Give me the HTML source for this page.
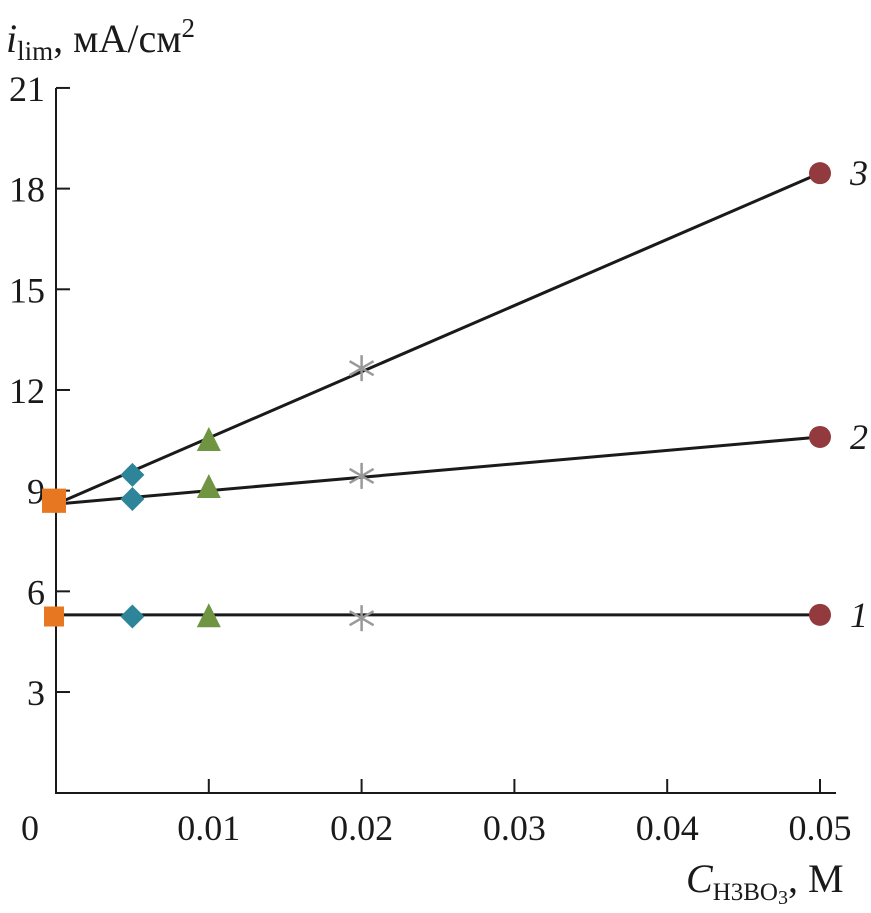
<!DOCTYPE html>
<html><head><meta charset="utf-8"><style>body{margin:0;background:#fff}svg text{font-family:"Liberation Serif",serif;fill:#1a1a1a}</style></head>
<body>
<svg id="c" width="871" height="908"></svg>
<script>
const yTicks=[3,6,9,12,15,18,21];
const xTicks=[0.01,0.02,0.03,0.04,0.05];
const xTickLabels=["0.01","0.02","0.03","0.04","0.05"];
const xData=[0,0.005,0.01,0.02,0.05];
const series1=[5.25,5.25,5.2,5.2,5.3];
const series2=[8.7,8.75,9.05,9.44,10.6];
const series3=[8.7,9.47,10.45,12.65,18.46];
const line1=[5.3,5.3];
const line2=[8.6,10.6];
const line3=[8.6,18.46];
const lineX=[0,0.05];
const markerTypes=["square","diamond","triangle","star","circle"];
const seriesLabels=["1","2","3"];
const X=v=>56+v*15280, Y=v=>792.7-v*33.56;
const s=document.getElementById('c'),NS='http://www.w3.org/2000/svg';
function el(t,a,name){const e=document.createElementNS(NS,t);for(const k in a)e.setAttribute(k,a[k]);


s.appendChild(e);return e;}
el('line',{x1:56,y1:Y(21),x2:56,y2:793,stroke:'#1a1a1a','stroke-width':2},'y-axis');
el('line',{x1:55,y1:793,x2:836,y2:793,stroke:'#1a1a1a','stroke-width':2},'x-axis');
yTicks.forEach(t=>{el('line',{x1:56,x2:70,y1:Y(t),y2:Y(t),stroke:'#1a1a1a','stroke-width':2},'y-tick');
const tx=el('text',{x:45,y:Y(t)+13,'font-size':36,'text-anchor':'end'},'y-tick-label');tx.textContent=t;});
xTicks.forEach((t,i)=>{el('line',{x1:X(t),x2:X(t),y1:793,y2:779,stroke:'#1a1a1a','stroke-width':2},'x-tick');
const tx=el('text',{x:X(t),y:840,'font-size':36,'text-anchor':'middle'},'x-tick-label');tx.textContent=xTickLabels[i];});
const z=el('text',{x:30,y:840,'font-size':36,'text-anchor':'middle'},'x-origin-label');z.textContent='0';
const yt=el('text',{x:6,y:52,'font-size':40},'y-axis-title');
yt.innerHTML='<tspan font-style="italic">i</tspan><tspan font-size="27" dy="8">lim</tspan><tspan dy="-8">, мА/см</tspan><tspan font-size="27" dy="-15">2</tspan>';
const xt=el('text',{x:686,y:892,'font-size':40},'x-axis-title');
xt.innerHTML='<tspan font-style="italic">C</tspan><tspan font-size="25" dy="8">H3BO</tspan><tspan font-size="20" dy="4">3</tspan><tspan dy="-12">, М</tspan>';
[line1,line2,line3].forEach((l,i)=>el('line',{x1:X(lineX[0]),y1:Y(l[0]),x2:X(lineX[1]),y2:Y(l[1]),stroke:'#1a1a1a','stroke-width':3},'trend-line-'+(i+1)));
function marker(type,x,y,big){
 if(type=='square'){const h=big?12:10;el('rect',{x:x-h-2,y:y-h,width:2*h,height:2*h,fill:'#e87722'},'marker-square');}
 else if(type=='diamond')el('polygon',{points:`${x},${y-12} ${x+12},${y} ${x},${y+12} ${x-12},${y}`,fill:'#2e8599'},'marker-diamond');
 else if(type=='triangle')el('polygon',{points:`${x},${y-15} ${x+12},${y+9} ${x-12},${y+9}`,fill:'#6f9542'},'marker-triangle');
 else if(type=='star'){const g=el('g',{stroke:'#999','stroke-width':2.5},'marker-star');
  [[0,-13,0,13],[-12,-7,12,7],[-12,7,12,-7]].forEach(p=>{const l=document.createElementNS(NS,'line');l.setAttribute('x1',x+p[0]);l.setAttribute('y1',y+p[1]);l.setAttribute('x2',x+p[2]);l.setAttribute('y2',y+p[3]);g.appendChild(l);});}
 else el('circle',{cx:x,cy:y,r:11,fill:'#923a3e'},'marker-circle');
}
[series1,series2,series3].forEach((sr,si)=>sr.forEach((v,i)=>marker(markerTypes[i],X(xData[i]),Y(v),si>0)));
[series1,series2,series3].forEach((sr,i)=>{const t=el('text',{x:850,y:Y(sr[4])+12,'font-size':36,'font-style':'italic'},'series-label-'+(i+1));t.textContent=seriesLabels[i];});
</script>
</body></html>
